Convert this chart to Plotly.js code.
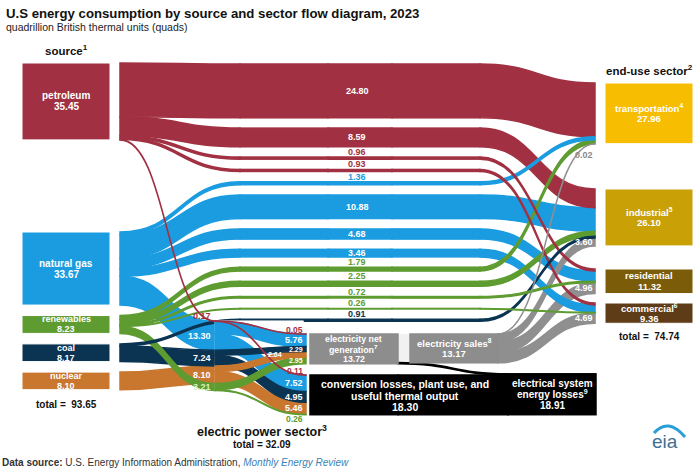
<!DOCTYPE html>
<html>
<head>
<meta charset="utf-8">
<script src="https://cdn.plot.ly/plotly-3.0.1.min.js"></script>
<style>
html, body { margin: 0; padding: 0; background: #ffffff; }
#chart { width: 700px; height: 475px; }
</style>
</head>
<body>
<div id="chart"></div>
<script>
// ===== data (quads, 2023) =====
const sources = ['petroleum', 'natural gas', 'renewables', 'coal', 'nuclear'];
const sourceTotals = [35.45, 33.67, 8.23, 8.17, 8.10];
const sectors = ['transportation', 'industrial', 'residential', 'commercial'];
const sectorNotes = ['4', '5', '', '6'];
const sectorTotals = [27.96, 26.10, 11.32, 9.36];
// direct use by end-use sector (transportation, industrial, residential, commercial)
const petroleumUse = [24.80, 8.59, 0.96, 0.93];
const naturalGasUse = [1.36, 10.88, 4.68, 3.46];
const renewablesUse = [1.79, 2.25, 0.72, 0.26];
const coalUse = [0, 0.91, 0, 0];
const nuclearUse = [0, 0, 0, 0];
// electric power sector, by source
const powerSectorInput = [0.17, 13.30, 3.21, 7.24, 8.10];
const powerToNetGeneration = [0.05, 5.76, 2.95, 2.29, 2.64];
const powerToConversionLosses = [0.11, 7.52, 0.26, 4.95, 5.46];
const powerSectorTotal = 32.09;
const netGenerationTotal = 13.72;
const conversionLossesTotal = 18.30;
const electricitySalesTotal = 13.17;
const systemLossesTotal = 18.91;
const salesToSector = [0.02, 3.60, 4.96, 4.69];
const sourceGrandTotal = 93.65;
const sectorGrandTotal = 74.74;

// ===== layout / styling =====
const W = 700, H = 475, K = 2.17, T = 88, GAP = 10;
const FONT = '"Liberation Sans", Arial, Helvetica, sans-serif';
const srcColor = ['#a13142', '#1b9ce0', '#5e9c31', '#0b3452', '#c9772f'];
const secColor = ['#f7bd00', '#c9a107', '#7b5c08', '#5e3c17'];
const BOXGREY = '#8d8d8d', FLOWGREY = '#8f8f8f', BLACK = '#000000', CLEAR = 'rgba(0,0,0,0)';
const directUse = [petroleumUse, naturalGasUse, renewablesUse, coalUse, nuclearUse];
const powerOrder = [0, 1, 3, 4, 2];

function nodeValues(nodes, links) {
  nodes.forEach(n => { n.vin = 0; n.vout = 0; });
  links.forEach(l => { nodes[l.s].vout += l.v; nodes[l.t].vin += l.v; });
  nodes.forEach(n => { n.value = Math.max(n.vin, n.vout); n.h = n.value * K; });
}
function stackLinks(nodes, links) {
  const outs = nodes.map(() => []), ins = nodes.map(() => []);
  links.forEach(l => { outs[l.s].push(l); ins[l.t].push(l); });
  outs.forEach((arr, i) => { arr.sort((a, b) => nodes[a.t].top - nodes[b.t].top); let y = nodes[i].top; arr.forEach(l => { l.y0 = y; y += l.v * K; }); });
  ins.forEach((arr, i) => { arr.sort((a, b) => nodes[a.s].top - nodes[b.s].top); let y = nodes[i].top; arr.forEach(l => { l.y1 = y; y += l.v * K; }); });
  links.forEach(l => { l.w = l.v * K; });
}

// ---------- trace 1: sources, end uses, boxes ----------
const N = [], L = [];
const addN = o => (N.push(o), N.length - 1);
const addL = (s, t, v, color) => { if (v > 0) L.push({ s, t, v, color }); };
// node centres; source and end-use boxes are drawn GAP px away from their flows
const X = { src: 76, p: 284, q: 436, ep: 259, box: 354, sales: 454, loss: 552, end: 639 };

const nSrc = sources.map((name, i) => addN({ name, color: srcColor[i], xc: X.src }));
const flows = [];
directUse.forEach((row, s) => row.forEach((v, j) => { if (v > 0) flows.push({ s, j, v }); }));
flows.forEach(f => {
  f.p = addN({ name: sources[f.s] + ' → ' + sectors[f.j], color: srcColor[f.s], xc: X.p });
  f.q = addN({ name: sources[f.s] + ' → ' + sectors[f.j], color: srcColor[f.s], xc: X.q });
});
const nEp = sources.map(name => addN({ name: name + ' → electric power sector', color: CLEAR, xc: X.ep }));
const nGen = addN({ name: 'electricity net generation', color: BOXGREY, xc: X.box });
const nConv = addN({ name: 'conversion losses, plant use, and useful thermal output', color: BLACK, xc: X.box });
const nSales = addN({ name: 'electricity sales', color: BOXGREY, xc: X.sales });
const nSys = addN({ name: 'electrical system energy losses', color: BLACK, xc: X.loss, edge: 4 });
const nSec = sectors.map((name, j) => addN({ name, color: secColor[j], xc: X.end }));

flows.forEach(f => {
  addL(nSrc[f.s], f.p, f.v, srcColor[f.s]);
  addL(f.p, f.q, f.v, srcColor[f.s]);
  addL(f.q, nSec[f.j], f.v, srcColor[f.s]);
});
sources.forEach((_, s) => {
  addL(nSrc[s], nEp[s], powerToNetGeneration[s] + powerToConversionLosses[s], srcColor[s]);
  addL(nEp[s], nGen, powerToNetGeneration[s], CLEAR);
  addL(nEp[s], nConv, powerToConversionLosses[s], CLEAR);
});
addL(nGen, nSales, electricitySalesTotal, 'rgba(141,141,141,0.12)');
addL(nGen, nSys, netGenerationTotal - electricitySalesTotal, BLACK);
addL(nConv, nSys, conversionLossesTotal, BLACK);
salesToSector.forEach((v, j) => addL(nSales, nSec[j], v, FLOWGREY));
nodeValues(N, L);

let y = 63;
nSrc.forEach((n, i) => { if (i === 1) y = 232; N[n].top = y; y += N[n].h + 10.5; });
y = 64;
flows.forEach(f => { N[f.p].top = N[f.q].top = y; y += N[f.p].h + 10.3; });
const EP_TOP = 321, GEN_TOP = 334, CONV_TOP = 375;
y = EP_TOP; powerOrder.forEach(s => { N[nEp[s]].top = y; y += N[nEp[s]].h; });
N[nGen].top = GEN_TOP; N[nConv].top = CONV_TOP; N[nSales].top = GEN_TOP;
N[nSys].top = CONV_TOP - (netGenerationTotal - electricitySalesTotal) * K;
const sectorTop = [83, 189, 269, 303];
nSec.forEach((n, j) => { N[n].top = sectorTop[j]; });
stackLinks(N, L);

const col1 = flows.map(f => f.p).concat(nEp);
const pad1 = (H - K * col1.reduce((a, n) => a + N[n].value, 0)) / (col1.length - 1);
const L1 = L.slice().sort((a, b) => b.v - a.v);

const trace1 = {
  type: 'sankey', arrangement: 'fixed', domain: { x: [0, 1], y: [0, 1] },
  node: {
    label: N.map(() => ''), customdata: N.map(n => n.name), hovertemplate: '%{customdata}<extra></extra>',
    color: N.map(n => n.color), x: N.map(n => n.xc / W), y: N.map(n => (n.top + n.h / 2) / H),
    thickness: T, pad: pad1,
    line: { width: N.map(n => n.edge || 0), color: '#ffffff' }
  },
  link: {
    source: L1.map(l => l.s), target: L1.map(l => l.t), value: L1.map(l => l.v), color: L1.map(l => l.color),
    hoverinfo: 'none'
  }
};

// ---------- trace 2: the electric power sector split ----------
const D2 = { top: 260, bottom: 460 };
const M = [], ML = [];
const addM = o => (M.push(o), M.length - 1);
const mIn = sources.map(name => addM({ name: name + ' → electric power sector', xc: 214.5 }));
const mGen = sources.map(name => addM({ name: name + ' → electricity net generation', xc: 306.5 }));
const mLoss = sources.map(name => addM({ name: name + ' → conversion losses', xc: 306.5 }));
sources.forEach((_, s) => {
  ML.push({ s: mIn[s], t: mGen[s], v: powerToNetGeneration[s], color: srcColor[s] });
  ML.push({ s: mIn[s], t: mLoss[s], v: powerToConversionLosses[s], color: srcColor[s] });
});
nodeValues(M, ML);
y = EP_TOP; powerOrder.forEach(s => { M[mIn[s]].top = y; y += M[mIn[s]].h; });
y = GEN_TOP; powerOrder.forEach(s => { M[mGen[s]].top = y; y += M[mGen[s]].h; });
y = CONV_TOP; powerOrder.forEach(s => { M[mLoss[s]].top = y; y += M[mLoss[s]].h; });
const outCol = mGen.concat(mLoss);
const pad2 = ((D2.bottom - D2.top) - K * outCol.reduce((a, n) => a + M[n].value, 0)) / (outCol.length - 1);
const ML2 = ML.slice().sort((a, b) => b.v - a.v);

const trace2 = {
  type: 'sankey', arrangement: 'fixed',
  domain: { x: [0, 1], y: [1 - D2.bottom / H, 1 - D2.top / H] },
  node: {
    label: M.map(() => ''), customdata: M.map(n => n.name), hovertemplate: '%{customdata}<extra></extra>',
    color: M.map(() => CLEAR), x: M.map(n => n.xc / W),
    y: M.map(n => (n.top + n.h / 2 - D2.top) / (D2.bottom - D2.top)),
    thickness: 1, pad: pad2, line: { width: 0 }
  },
  link: { source: ML2.map(l => l.s), target: ML2.map(l => l.t), value: ML2.map(l => l.v), color: ML2.map(l => l.color), hoverinfo: 'none' }
};

// ---------- text ----------
const ann = [];
function label(x, yy, txt, size, color, extra) {
  ann.push(Object.assign({
    xref: 'paper', yref: 'paper', x: x / W, y: 1 - yy / H, text: txt, showarrow: false, borderpad: 0,
    xanchor: 'center', yanchor: 'middle', font: { family: FONT, size: size, color: color }
  }, extra || {}));
}
function lines(cx, cy, arr, size, gap, color) {
  arr.forEach((t, i) => label(cx, cy + (i - (arr.length - 1) / 2) * gap, '<b>' + t + '</b>', size, color || '#ffffff'));
}
const mid = n => N[n].top + N[n].h / 2;

// source boxes
nSrc.forEach((n, i) => lines(N[n].xc - GAP, mid(n), [sources[i], sourceTotals[i].toFixed(2)], N[n].h > 40 ? 10 : 9, N[n].h > 40 ? 11 : 10));
// end-use boxes
nSec.forEach((n, j) => lines(N[n].xc + GAP, mid(n), [sectors[j] + (sectorNotes[j] ? '<sup>' + sectorNotes[j] + '</sup>' : ''), sectorTotals[j].toFixed(2)], 9.5, Math.min(11, Math.max(10, N[n].h / 2.3))));
// middle boxes
lines(N[nGen].xc, mid(nGen), ['electricity net', 'generation<sup>7</sup>', netGenerationTotal.toFixed(2)], 8.8, 10);
lines(N[nSales].xc, mid(nSales), ['electricity sales<sup>8</sup>', electricitySalesTotal.toFixed(2)], 9.5, 10.5);
lines(N[nConv].xc + 51, mid(nConv) + 1, ['conversion losses, plant use, and', 'useful thermal output', conversionLossesTotal.toFixed(2)], 10.5, 11.5);
lines(N[nSys].xc, mid(nSys), ['electrical system', 'energy losses<sup>9</sup>', systemLossesTotal.toFixed(2)], 10, 11);

// direct-use flow values
flows.forEach(f => {
  const n = N[f.p];
  if (n.h >= 7) label(357, n.top + n.h / 2, '<b>' + f.v.toFixed(2) + '</b>', 9, '#ffffff');
  else label(357, n.top - 5, '<b>' + f.v.toFixed(2) + '</b>', 9, srcColor[f.s]);
});
// electric power sector inputs
powerOrder.forEach(s => {
  const n = M[mIn[s]];
  const txt = '<b>' + powerSectorInput[s].toFixed(2) + '</b>';
  if (n.h < 4) label(212, n.top - 5, txt, 9, srcColor[s], { xanchor: 'right' });
  else label(212, n.top + n.h / 2, txt, 9, s === 2 ? '#d8efc2' : '#ffffff', { xanchor: 'right' });
});
// electric power sector outputs
let smallCount = 0;
powerOrder.forEach((s, k) => {
  [[mGen[s], powerToNetGeneration[s]], [mLoss[s], powerToConversionLosses[s]]].forEach(([m, v], g) => {
    const n = M[m];
    const txt = '<b>' + v.toFixed(2) + '</b>';
    if (n.h >= 7) label(304, n.top + n.h / 2, txt, 9, '#ffffff', { xanchor: 'right' });
    else if (n.h >= 4) { label(smallCount % 2 ? 283 : 304, n.top + n.h / 2, txt, 7, '#ffffff', { xanchor: 'right' }); smallCount++; }
    else if (g === 1 && k === powerOrder.length - 1) label(304, n.top + n.h + 4.5, txt, 8.5, srcColor[s], { xanchor: 'right' });
    else label(304, n.top - 4.5, txt, 8.5, srcColor[s], { xanchor: 'right' });
  });
});
// electricity sales to sectors
L.filter(l => l.s === nSales).forEach(l => {
  const txt = '<b>' + l.v.toFixed(2) + '</b>';
  if (l.w >= 4) label(594, l.y1 + l.w / 2, txt, 9, '#ffffff', { xanchor: 'right' });
  else label(594, l.y1 + l.w + 11, txt, 9, '#8a8a8a', { xanchor: 'right' });
});

// headings and notes
label(5, 13, '<b>U.S energy consumption by source and sector flow diagram, 2023</b>', 13.2, '#111111', { xanchor: 'left' });
label(5, 27, 'quadrillion British thermal units (quads)', 10.5, '#222222', { xanchor: 'left' });
label(66, 50, '<b>source<sup>1</sup></b>', 11.5, '#111111');
label(649, 70, '<b>end-use sector<sup>2</sup></b>', 11.5, '#111111');
label(66, 404, '<b>total =  ' + sourceGrandTotal.toFixed(2) + '</b>', 10, '#111111');
label(649, 336, '<b>total =  ' + sectorGrandTotal.toFixed(2) + '</b>', 10, '#111111');
label(262, 431, '<b>electric power sector<sup>3</sup></b>', 12.5, '#111111');
label(262, 444, '<b>total = ' + powerSectorTotal.toFixed(2) + '</b>', 10, '#111111');
label(1, 462, '<b>Data source:</b> U.S. Energy Information Administration, <span style="color:#3b82b8"><i>Monthly Energy Review</i></span>', 10, '#333333', { xanchor: 'left' });
label(665, 441, 'eia', 19, '#3f6f94');

const px = (x, yy) => (x / W).toFixed(4) + ',' + (1 - yy / H).toFixed(4);
const layout = {
  width: W, height: H, margin: { l: 0, r: 0, t: 0, b: 0 },
  paper_bgcolor: '#ffffff', font: { family: FONT },
  annotations: ann,
  shapes: [{
    type: 'path', xref: 'paper', yref: 'paper',
    path: 'M' + px(654, 433) + ' Q' + px(668, 417) + ' ' + px(685, 437),
    line: { color: '#2a9fd6', width: 3 }
  }]
};
Plotly.newPlot('chart', [trace1, trace2], layout, { displayModeBar: false, staticPlot: true }).then(() => {
  const host = document.getElementById('chart').getBoundingClientRect();
  // give opaque bands a hairline of their own colour so that joins between segments do not show seams
  document.querySelectorAll('#chart .sankey-link').forEach(p => {
    const op = parseFloat(p.style.fillOpacity === '' ? '1' : p.style.fillOpacity);
    if (op >= 0.99) {
      p.style.stroke = p.style.fill;
      p.style.strokeOpacity = '1';
      p.style.strokeWidth = '1.5px';
    }
  });
  document.querySelectorAll('#chart .sankey-node .node-rect').forEach(r => {
    const b = r.getBoundingClientRect();
    const left = b.left - host.left;
    if (left < 150) { r.setAttribute('transform', 'translate(' + (-GAP) + ',0)'); return; }   // source boxes
    if (left > 590) { r.setAttribute('transform', 'translate(' + GAP + ',0)'); return; }      // end-use boxes
    const sw = parseFloat(r.style.strokeWidth || '0');
    const f = r.style.fill;
    if (sw === 0 && f && f.indexOf('rgba(0, 0, 0, 0)') < 0 && r.style.fillOpacity !== '0') {
      r.style.stroke = f;
      r.style.strokeWidth = '1.5px';
      r.style.strokeOpacity = '1';
    }
  });
});
</script>
</body>
</html>
